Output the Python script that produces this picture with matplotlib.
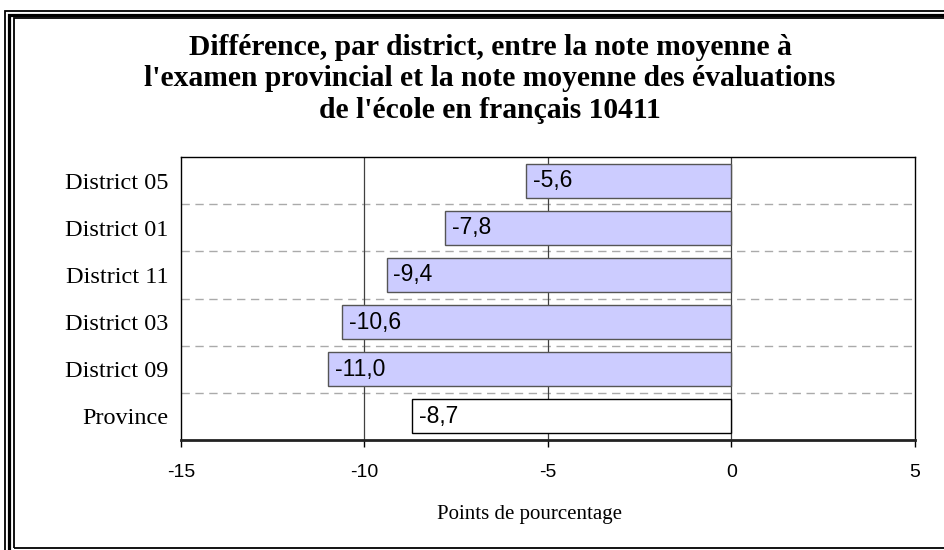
import matplotlib.pyplot as plt
from matplotlib.patches import Rectangle

# donnees
districts = ["District 05", "District 01", "District 11", "District 03", "District 09", "Province"]
ecarts = [-5.6, -7.8, -9.4, -10.6, -11.0, -8.7]
couleurs = ["#ccccff"] * 5 + ["white"]
bords = ["#555555"] * 5 + ["black"]
xticks = [-15, -10, -5, 0, 5]

W, H = 945, 550
fig = plt.figure(figsize=(W / 100, H / 100), dpi=100)

# cadre double (coupe a droite et en bas comme l'original)
def cadre(x0, y0, x1, y1, lw):
    r = Rectangle((x0 / W, 1 - y1 / H), (x1 - x0) / W, (y1 - y0) / H,
                  transform=fig.transFigure, fill=False, edgecolor="black", lw=lw)
    fig.add_artist(r)

cadre(5.5, 11, 966, 566, 1.3)
cadre(9.5, 14.5, 962, 562, 2.3)
cadre(14, 18, 957.5, 547.5, 1.3)

ax = fig.add_axes([181 / W, 1 - 440 / H, (915 - 181) / W, (440 - 157) / H])

pos = list(range(len(districts)))
ax.barh(pos, ecarts, height=0.72, color=couleurs, edgecolor=bords, linewidth=1, zorder=3)

for p, v in zip(pos, ecarts):
    txt = ("%.1f" % v).replace(".", ",")
    ax.annotate(txt, (v, p), xytext=(5, 0), textcoords="offset points",
                ha="left", va="center", fontsize=16.5, family="Liberation Sans", zorder=4)

for k in range(len(districts) - 1):
    ax.axhline(k + 0.5, color="#aaaaaa", lw=1, ls=(0, (6, 4)), zorder=1)
for x in [-10, -5, 0]:
    ax.axvline(x, color="#404040", lw=0.9, zorder=2)

ax.set_xlim(-15, 5)
ax.set_ylim(len(districts) - 0.5, -0.5)
ax.set_xticks(xticks)
ax.set_xticklabels([str(t) for t in xticks], family="Liberation Sans", fontsize=14)
ax.set_yticks(pos)
ax.set_yticklabels(districts, family="Liberation Serif", fontsize=17.5)
ax.tick_params(axis="y", length=0, pad=9)
ax.tick_params(axis="x", length=5, width=1, pad=12, direction="out")
for s in ["left", "top", "right"]:
    ax.spines[s].set_linewidth(1)
    ax.spines[s].set_color("black")
ax.spines["bottom"].set_linewidth(2)
ax.spines["bottom"].set_color("#222222")

ax.set_xlabel("Points de pourcentage", family="Liberation Serif", fontsize=15)
ax.xaxis.set_label_coords((530 - 181) / 734, -(515 - 440) / 283)
ax.xaxis.label.set_va("center")

fig.text(490 / W, 1 - 79 / H,
         "Différence, par district, entre la note moyenne à\n"
         "l'examen provincial et la note moyenne des évaluations\n"
         "de l'école en français 10411",
         ha="center", va="center", family="Liberation Serif", fontweight="bold",
         fontsize=21.3, linespacing=1.2)

fig.savefig("out.png", dpi=100)
